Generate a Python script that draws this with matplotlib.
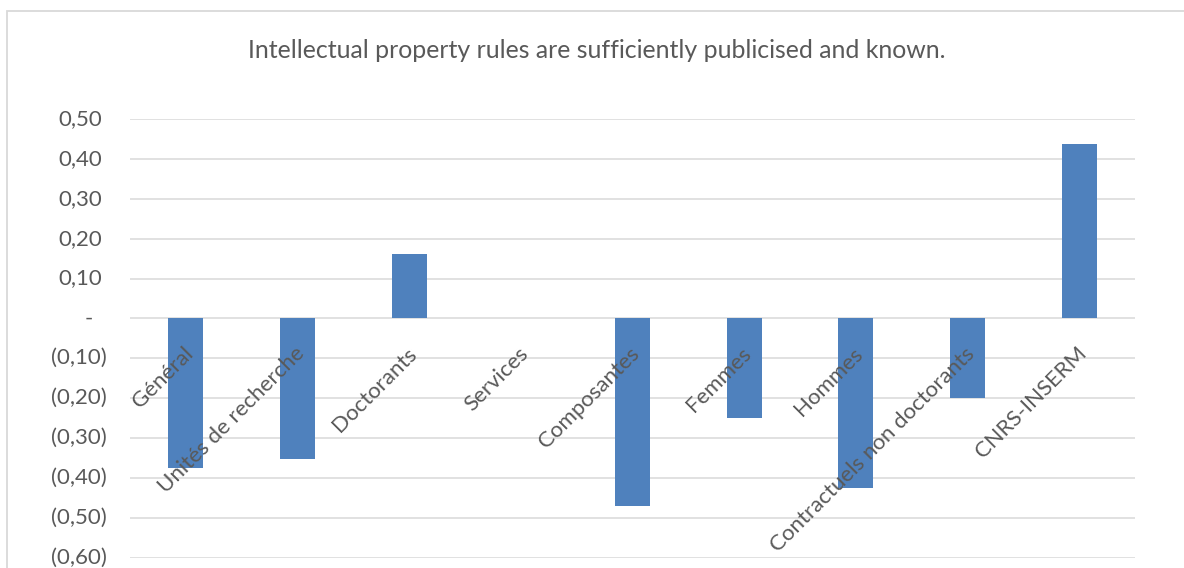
import numpy as np
import matplotlib
matplotlib.use("Agg")
import matplotlib.pyplot as plt
from matplotlib.patches import Rectangle
from matplotlib.transforms import offset_copy, blended_transform_factory

plt.rcParams['font.family'] = ['Lato', 'DejaVu Sans']

title = "Intellectual property rules are sufficiently publicised and known."
categories = ["Général", "Unités de recherche", "Doctorants", "Services",
              "Composantes", "Femmes", "Hommes",
              "Contractuels non doctorants", "CNRS-INSERM"]
values = [-0.374, -0.352, 0.161, 0.0, -0.470, -0.249, -0.425, -0.200, 0.437]
ytick_values = [0.5, 0.4, 0.3, 0.2, 0.1, 0.0, -0.1, -0.2, -0.3, -0.4, -0.5, -0.6]

TEXT = '#595959'
GRID = '#D9D9D9'
BAR = '#4F81BD'

W, H = 1184, 568
fig = plt.figure(figsize=(W / 100, H / 100), dpi=100)

# chart area border (left/top edges visible, the rest runs off the canvas)
fig.add_artist(Rectangle((7 / W, -0.1), 1.2, (H - 11.5) / H + 0.1,
                         transform=fig.transFigure, fill=False,
                         ec=GRID, lw=1.3))

left, right, top, bottom = 130, 1135, 119, 557.7
ax = fig.add_axes([left / W, (H - bottom) / H, (right - left) / W, (bottom - top) / H])

x = np.arange(len(categories))
ax.bar(x, values, width=0.313, color=BAR, zorder=3)

ax.set_xlim(-0.5, len(categories) - 0.5)
ax.set_ylim(-0.6, 0.5)
ax.set_yticks(ytick_values)
ax.set_xticks([])
ax.yaxis.grid(True, color=GRID, lw=1.1, zorder=0)
ax.tick_params(axis='y', length=0, labelleft=False)
for s in ax.spines.values():
    s.set_visible(False)


def fmt(v):
    if abs(v) < 1e-9:
        return "-"
    s = f"{abs(v):.2f}".replace('.', ',')
    return f"({s})" if v < 0 else s


# accounting-style value labels on the y axis
ytrans = blended_transform_factory(fig.transFigure, ax.transData)
for v in ytick_values:
    lab = fmt(v)
    if lab == "-":
        xp, ha = 88.5, 'center'
    elif v < 0:
        xp, ha = 107, 'right'
    else:
        xp, ha = 102, 'right'
    ax.text(xp / W, v, lab, transform=ytrans, ha=ha, va='center',
            fontsize=16, color=TEXT, clip_on=False)

# rotated category labels hanging from the zero line
for xi, lab in zip(x, categories):
    tr = offset_copy(ax.transData, fig=fig, x=-3, y=-25, units='dots')
    ax.text(xi, 0, lab, transform=tr, rotation=45, rotation_mode='anchor',
            ha='right', va='top', fontsize=16, color=TEXT, clip_on=False,
            zorder=4)

fig.text(597 / W, 1 - 51 / H, title, ha='center', va='center',
         fontsize=17.9, color=TEXT)

fig.savefig("out.png", dpi=100, facecolor='white')
